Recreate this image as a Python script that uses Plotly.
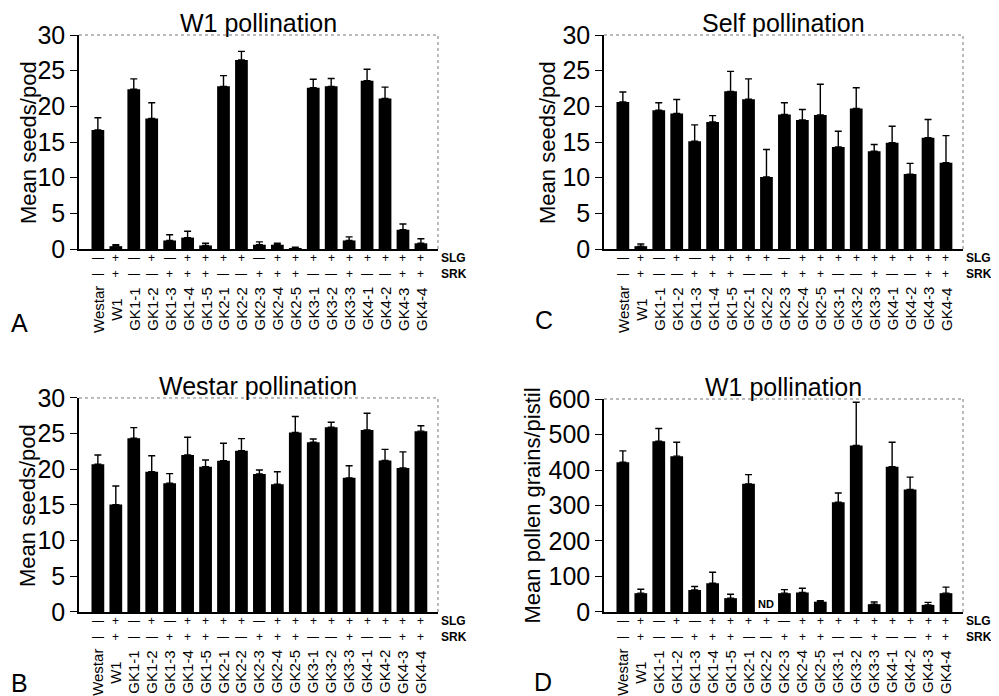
import plotly.graph_objects as go

lines = ["Westar", "W1", "GK1-1", "GK1-2", "GK1-3", "GK1-4", "GK1-5",
         "GK2-1", "GK2-2", "GK2-3", "GK2-4", "GK2-5",
         "GK3-1", "GK3-2", "GK3-3", "GK4-1", "GK4-2", "GK4-3", "GK4-4"]
slg = ["—", "+", "—", "+", "—", "+", "+", "+", "+", "—", "+", "+", "+", "+", "+", "+", "+", "+", "+"]
srk = ["—", "+", "—", "—", "+", "+", "+", "—", "—", "+", "+", "+", "—", "—", "+", "—", "—", "+", "+"]

# A: W1 pollination (seeds/pod)
a_mean = [16.7, 0.4, 22.4, 18.3, 1.2, 1.6, 0.5, 22.8, 26.5, 0.6, 0.6, 0.15, 22.6, 22.8, 1.2, 23.6, 21.1, 2.7, 0.8]
a_err = [1.7, 0.2, 1.45, 2.2, 0.8, 0.9, 0.3, 1.5, 1.2, 0.4, 0.2, 0.1, 1.2, 1.1, 0.5, 1.6, 1.6, 0.8, 0.65]
# C: Self pollination (seeds/pod)
c_mean = [20.6, 0.4, 19.45, 19.0, 15.1, 17.8, 22.1, 21.0, 10.1, 18.85, 18.1, 18.8, 14.3, 19.7, 13.7, 14.9, 10.5, 15.6, 12.1]
c_err = [1.4, 0.3, 1.05, 1.95, 2.3, 0.9, 2.8, 2.85, 3.85, 1.65, 1.45, 4.3, 2.2, 2.9, 0.95, 2.3, 1.5, 2.55, 3.8]
# B: Westar pollination (seeds/pod)
b_mean = [20.7, 15.05, 24.35, 19.65, 18.05, 22.0, 20.35, 21.2, 22.6, 19.35, 17.9, 25.15, 23.8, 25.9, 18.8, 25.5, 21.25, 20.2, 25.35]
b_err = [1.3, 2.6, 1.5, 2.25, 1.35, 2.5, 0.95, 2.45, 1.7, 0.55, 1.75, 2.25, 0.45, 0.7, 1.7, 2.35, 1.55, 2.25, 0.75]
# D: W1 pollination (pollen grains/pistil); GK2-2 not determined
d_mean = [422, 53, 481, 439, 62, 81, 39, 361, None, 53, 55, 29, 309, 469, 22, 409, 345, 20, 53]
d_err = [32, 11, 36, 39, 10, 31, 11, 26, None, 10, 12, 3, 26, 122, 6, 69, 35, 7, 17]

FONT = "Arial, Liberation Sans, sans-serif"

panels = [
    # suffix, means, errs, title, ytitle, letter, xdom, ydom, ymax, dtick, ytitle_x, letter_pos
    ("", a_mean, a_err, "W1 pollination", "Mean seeds/pod", "A",
     [0.0711, 0.4304], [0.6537, 0.9612], 30, 5, 0.0200, (0.012, 0.5474)),
    ("2", c_mean, c_err, "Self pollination", "Mean seeds/pod", "C",
     [0.5966, 0.9560], [0.6537, 0.9612], 30, 5, 0.5395, (0.5365, 0.5517)),
    ("3", b_mean, b_err, "Westar pollination", "Mean seeds/pod", "B",
     [0.0711, 0.4304], [0.1322, 0.4397], 30, 5, 0.0200, (0.012, 0.0302)),
    ("4", d_mean, d_err, "W1 pollination", "Mean pollen grains/pistil", "D",
     [0.5966, 0.9560], [0.1322, 0.4382], 600, 100, 0.5255, (0.5355, 0.0316)),
]

fig = go.Figure()
annotations = []
shapes = []
layout = {}

for suf, means, errs, title, ytitle, letter, xdom, ydom, ymax, dtick, ytx, lpos in panels:
    xa = "x" + suf
    ya = "y" + suf
    fig.add_trace(go.Bar(
        x=lines, y=means, xaxis=xa, yaxis=ya,
        marker=dict(color="black", line=dict(width=0)),
        error_y=dict(type="data", symmetric=False, array=errs,
                     arrayminus=[0 if e is not None else None for e in errs],
                     color="black", thickness=1.4, width=3.5),
        showlegend=False,
    ))
    layout["xaxis" + suf] = dict(
        domain=xdom, anchor=ya, type="category", range=[-1.05, 18.95],
        showline=True, linecolor="black", linewidth=1.5, ticks="",
        showticklabels=False, showgrid=False, zeroline=False, fixedrange=True,
        automargin=False,
    )
    layout["yaxis" + suf] = dict(
        domain=ydom, anchor=xa, range=[0, ymax], dtick=dtick, tick0=0,
        showline=True, linecolor="black", linewidth=1.5,
        ticks="outside", ticklen=7, tickwidth=1.3, tickcolor="black",
        tickfont=dict(family=FONT, size=25, color="black"),
        showgrid=False, zeroline=False, fixedrange=True, automargin=False,
    )
    # top and right frame
    shapes.append(dict(type="line", xref=xa + " domain", yref=ya + " domain",
                       x0=0, x1=1, y0=1, y1=1, line=dict(color="#777", width=1, dash="dot")))
    shapes.append(dict(type="line", xref=xa + " domain", yref=ya + " domain",
                       x0=1, x1=1, y0=0, y1=1, line=dict(color="#777", width=1, dash="dot")))
    # title
    annotations.append(dict(text=title, xref=xa + " domain", yref=ya + " domain",
                            x=0.5, y=1, yanchor="bottom", yshift=-4, showarrow=False,
                            font=dict(family=FONT, size=25, color="black")))
    # y axis title
    annotations.append(dict(text=ytitle, xref="paper", yref=ya + " domain",
                            x=ytx, y=0.5, textangle=-90, xanchor="center", yanchor="middle",
                            showarrow=False, font=dict(family=FONT, size=22, color="black")))
    # panel letter
    annotations.append(dict(text=letter, xref="paper", yref="paper", x=lpos[0], y=lpos[1],
                            xanchor="center", yanchor="middle", showarrow=False,
                            font=dict(family=FONT, size=25, color="black")))
    # SLG / SRK rows and line names
    for i, name in enumerate(lines):
        annotations.append(dict(text=slg[i], xref=xa, yref=ya + " domain", x=name, y=0,
                                yshift=-9, yanchor="middle", showarrow=False,
                                font=dict(family=FONT, size=12, color="black")))
        annotations.append(dict(text=srk[i], xref=xa, yref=ya + " domain", x=name, y=0,
                                yshift=-25, yanchor="middle", showarrow=False,
                                font=dict(family=FONT, size=12, color="black")))
        annotations.append(dict(text=name, xref=xa, yref=ya + " domain", x=name, y=0,
                                yshift=-60, textangle=-90, xanchor="center", yanchor="middle",
                                showarrow=False, font=dict(family=FONT, size=15, color="black")))
    for lab, sh in (("SLG", -9), ("SRK", -25)):
        annotations.append(dict(text="<b>" + lab + "</b>", xref=xa + " domain", yref=ya + " domain",
                                x=1, y=0, xanchor="left", yanchor="middle", xshift=1, yshift=sh,
                                showarrow=False, font=dict(family=FONT, size=12, color="black")))
    for i, m in enumerate(means):
        if m is None:
            annotations.append(dict(text="<b>ND</b>", xref=xa, yref=ya, x=lines[i], y=0,
                                    yanchor="bottom", showarrow=False,
                                    font=dict(family=FONT, size=11, color="black")))

fig.update_layout(
    width=999, height=696,
    margin=dict(l=0, r=0, t=0, b=0, pad=0, autoexpand=False),
    paper_bgcolor="white", plot_bgcolor="white",
    bargap=0.29,
    annotations=annotations, shapes=shapes,
    font=dict(family=FONT, color="black"),
    **layout,
)

fig.write_html("out.html")
